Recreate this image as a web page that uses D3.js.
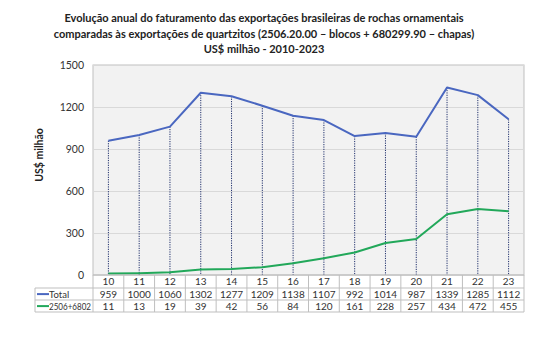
<!DOCTYPE html>
<html>
<head>
<meta charset="utf-8">
<script src="https://cdn.jsdelivr.net/npm/d3@7"></script>
<style>
  html, body { margin: 0; padding: 0; background: #fff; }
  svg { display: block; font-family: Lato, "Open Sans", sans-serif; }
</style>
</head>
<body>
<svg id="chart" width="550" height="350"></svg>
<script>
// Years (two-digit labels) and annual export revenue, US$ million
const years = ["10","11","12","13","14","15","16","17","18","19","20","21","22","23"];
const total = [959,1000,1060,1302,1277,1209,1138,1107,992,1014,987,1339,1285,1112];
const quartzite = [11,13,19,39,42,56,84,120,161,228,257,434,472,455];
const yTicks = [0,300,600,900,1200,1500];
const seriesNames = ["Total", "2506+6802"];
const titleLines = [
  "Evolução anual do faturamento das exportações brasileiras de rochas ornamentais",
  "comparadas às exportações de quartzitos (2506.20.00 – blocos + 680299.90 – chapas)",
  "US$ milhão - 2010-2023"
];

const svg = d3.select("#chart");
const plot = {left: 93, right: 524, top: 65, bottom: 275};
const colors = ["#4a67c0", "#22a85a"];
const gridColor = "#d9d9d9";
const borderColor = "#bfbfbf";

const x = d3.scaleBand().domain(years).range([plot.left, plot.right]);
const y = d3.scaleLinear().domain([0, 1500]).range([plot.bottom, plot.top]);
const cx = d => x(d) + x.bandwidth() / 2;

// Title
svg.append("g").selectAll("text").data(titleLines).join("text")
  .attr("x", 264).attr("y", (d, i) => 22 + i * 15.5)
  .attr("text-anchor", "middle")
  .attr("font-size", 11).attr("font-weight", "bold").attr("fill", "#222")
  .text(d => d);

// Plot background
svg.append("rect")
  .attr("x", plot.left).attr("y", plot.top)
  .attr("width", plot.right - plot.left).attr("height", plot.bottom - plot.top)
  .attr("fill", "#f2f2f2").attr("stroke", borderColor).attr("stroke-width", 1);

// Gridlines + y labels
const yAxis = d3.axisLeft(y).tickValues(yTicks).tickFormat(d3.format("d"))
  .tickSize(-(plot.right - plot.left)).tickPadding(9);
const gy = svg.append("g").attr("transform", `translate(${plot.left},0)`).call(yAxis);
gy.select(".domain").remove();
gy.selectAll(".tick line").attr("stroke", gridColor);
gy.selectAll(".tick text").attr("font-size", 10.5).attr("fill", "#333").attr("font-family", "Lato, sans-serif");

// Y axis title
svg.append("text")
  .attr("transform", "translate(43,155) rotate(-90)")
  .attr("text-anchor", "middle").attr("font-size", 10.5).attr("font-weight", "bold").attr("fill", "#222")
  .text("US$ milhão");

// Drop lines from the total series
svg.append("g").selectAll("line").data(years).join("line")
  .attr("x1", d => cx(d)).attr("x2", d => cx(d))
  .attr("y1", (d, i) => y(total[i])).attr("y2", plot.bottom)
  .attr("stroke", "#1f2f6b").attr("stroke-width", 1).attr("stroke-dasharray", "1.2,1.2");

// Series lines
const line = d3.line().x((d, i) => cx(years[i])).y(d => y(d));
[total, quartzite].forEach((s, k) => {
  svg.append("path").datum(s)
    .attr("d", line).attr("fill", "none")
    .attr("stroke", colors[k]).attr("stroke-width", 2).attr("stroke-linejoin", "round");
});

// Data table below the axis
const rowTop = [275, 288, 300, 312];
const tableLeft = 35;
const tg = svg.append("g").attr("stroke", borderColor).attr("stroke-width", 1);
tg.append("line").attr("x1", plot.left).attr("x2", plot.right).attr("y1", rowTop[0]).attr("y2", rowTop[0]);
[rowTop[1], rowTop[2], rowTop[3]].forEach(yy =>
  tg.append("line").attr("x1", tableLeft).attr("x2", plot.right).attr("y1", yy).attr("y2", yy));
const bounds = years.map(d => x(d)).concat([plot.right]);
tg.selectAll("line.v").data(bounds).join("line").attr("class", "v")
  .attr("x1", d => d).attr("x2", d => d).attr("y1", rowTop[0]).attr("y2", rowTop[3]);
tg.append("line").attr("x1", tableLeft).attr("x2", tableLeft).attr("y1", rowTop[1]).attr("y2", rowTop[3]);

// header (year labels)
svg.append("g").selectAll("text").data(years).join("text")
  .attr("x", d => cx(d)).attr("y", (rowTop[0] + rowTop[1]) / 2 + 3.6)
  .attr("text-anchor", "middle").attr("font-size", 10).attr("fill", "#333")
  .text(d => d);

// value rows with legend keys
[total, quartzite].forEach((s, k) => {
  const yy = (rowTop[k + 1] + rowTop[k + 2]) / 2 + 3.6;
  svg.append("g").selectAll("text").data(s).join("text")
    .attr("x", (d, i) => cx(years[i])).attr("y", yy)
    .attr("text-anchor", "middle").attr("font-size", 10).attr("fill", "#333")
    .text(d => d);
  svg.append("line")
    .attr("x1", tableLeft + 2).attr("x2", tableLeft + 14).attr("y1", yy - 3.5).attr("y2", yy - 3.5)
    .attr("stroke", colors[k]).attr("stroke-width", 2);
  const lbl = svg.append("text")
    .attr("x", tableLeft + 14).attr("y", yy)
    .attr("font-size", 9.5).attr("fill", "#333")
    .text(seriesNames[k]);
  if (seriesNames[k].length > 6) lbl.attr("textLength", 42).attr("lengthAdjust", "spacingAndGlyphs");
});
</script>
</body>
</html>
